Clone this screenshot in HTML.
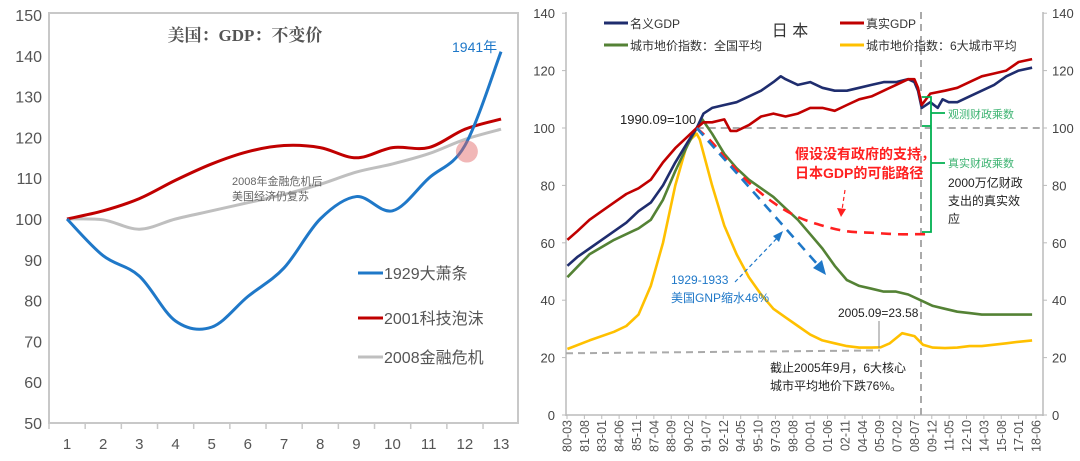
<!DOCTYPE html>
<html><head><meta charset="utf-8"><style>
body{margin:0;background:#fff;}
svg{display:block;font-family:"Liberation Sans","Noto Sans CJK SC",sans-serif;}
</style></head><body>
<svg id="c" width="1080" height="461" viewBox="0 0 1080 461">
<g id="left"></g>
<g id="right"></g>
</svg>
<script>
// ---- Left chart data ----
const usCats = [1,2,3,4,5,6,7,8,9,10,11,12,13];
const usYTicks = [50,60,70,80,90,100,110,120,130,140,150];
const dep1929 = [100,91,86,75,73.5,81,88,100,105.5,102,110,118,141];
const dot2001 = [100,102,105,109.5,113.5,116.5,118,117.5,115,117.5,117.5,122,124.5];
const fin2008 = [100,99.8,97.5,100,102,104,106,108.5,111.5,113.5,116,119.5,122];

// ---- Right chart data ----
const jpLabels = ["80-03","81-08","83-01","84-06","85-11","87-04","88-09","90-02","91-07","92-12","94-05","95-10","97-03","98-08","00-01","01-06","02-11","04-04","05-09","07-02","08-07","09-12","11-05","12-10","14-03","15-08","17-01","18-06"];
const jpYTicks = [0,20,40,60,80,100,120,140];
const nomYears = [1980.2,1981,1982,1983,1984,1985,1986,1987,1988,1989,1990,1990.75,1991.3,1992,1993,1994,1995,1996,1997,1997.6,1998,1999,2000,2001,2002,2003,2004,2005,2006,2007,2008,2008.5,2008.8,2009.1,2009.8,2010.4,2010.8,2011.3,2012,2013,2014,2015,2016,2017,2018.1];
const nomGDP  = [52,55,58,61,64,67,71,74,80,88,95,100,105,107,108,109,111,113,116,118,117,115,116,114,113,113,114,115,116,116,117,116,113,107,109,107,110,109,109,111,113,115,118,120,121];
const realYears = [1980.2,1981,1982,1983,1984,1985,1986,1987,1988,1989,1990,1990.75,1991.3,1992,1993,1993.5,1994,1995,1996,1997,1998,1999,2000,2001,2002,2003,2004,2005,2006,2007,2008,2008.5,2008.8,2009.1,2009.8,2011,2012,2013,2014,2015,2016,2017,2018.1];
const realGDP  = [61,64,68,71,74,77,79,82,88,93,97,100,102,102,103,99,99,101,104,105,104,105,107,107,106,108,110,111,113,115,117,117,114,108,112,113,114,116,118,119,120,123,124];
const landYears = [1980.2,1982,1984,1986,1987,1988,1989,1990,1990.75,1991.2,1992,1993,1994,1995,1996,1997,1998,1999,2000,2001,2002,2003,2004,2005,2006,2007,2008,2009,2010,2011,2012,2013,2014,2015,2016,2017,2018.1];
const landAll   = [48,56,61,65,68,75,85,94,100,103,98,91,86,82,79,76,72,68,63,58,52,47,45,44,43,43,42,40,38,37,36,35.5,35,35,35,35,35];
const cityYears = [1980.2,1982,1984,1985,1986,1987,1988,1989,1990,1990.75,1991,1992,1993,1994,1995,1996,1997,1998,1999,2000,2001,2002,2003,2004,2005,2005.75,2006.5,2007.5,2008.5,2009.2,2010,2011,2012,2013,2014,2015,2016,2017,2018.1];
const city6     = [23,26,29,31,35,45,60,80,95,98,96,80,66,56,48,42,37,34,31,28,26,25,24,23.5,23.5,23.6,25,28.5,27.5,24.5,23.5,23.3,23.5,24,24,24.5,25,25.5,26];
const noSupportYears = [1990.75,1992,1993,1995,1997,1999,2001,2003,2005,2007,2008.6,2009.4];
const noSupportGDP   = [100,95,90,81,74,69,66,64,63.5,63,63,63];

const NS="http://www.w3.org/2000/svg";
function mk(parent,tag,attrs,text){const e=document.createElementNS(NS,tag);for(const k in attrs)e.setAttribute(k,attrs[k]);if(text!==undefined)e.textContent=text;parent.appendChild(e);return e;}
function smooth(pts){let d="M"+pts[0][0]+","+pts[0][1];for(let i=0;i<pts.length-1;i++){const p0=pts[i-1]||pts[i],p1=pts[i],p2=pts[i+1],p3=pts[i+2]||p2;const c1x=p1[0]+(p2[0]-p0[0])/6,c1y=p1[1]+(p2[1]-p0[1])/6,c2x=p2[0]-(p3[0]-p1[0])/6,c2y=p2[1]-(p3[1]-p1[1])/6;d+=" C"+c1x+","+c1y+" "+c2x+","+c2y+" "+p2[0]+","+p2[1];}return d;}
function poly(pts){return "M"+pts.map(p=>p[0].toFixed(1)+","+p[1].toFixed(1)).join(" L");}

// ===== LEFT =====
const L=document.getElementById('left');
const lx=i=>67+(i-1)*36.17, ly=v=>15+(150-v)*4.08;
let e=mk(L,'rect',{x:49,y:13,width:469,height:410,fill:'none',stroke:'#c8c8c8','stroke-width':2});

usYTicks.forEach(v=>{const t=mk(L,'text',{x:42,y:ly(v)+6,'text-anchor':'end','font-size':16,fill:'#555'},v);
});
usCats.forEach(c=>{const t=mk(L,'text',{x:lx(c),y:449,'text-anchor':'middle','font-size':15,fill:'#555'},c);

const k=mk(L,'line',{x1:lx(c)-18,x2:lx(c)-18,y1:423,y2:429,stroke:'#c8c8c8','stroke-width':1.5});
});
e=mk(L,'text',{x:245,y:41,'text-anchor':'middle','font-size':17,'font-weight':'bold',fill:'#555','font-family':'"Liberation Serif","Noto Serif CJK SC",serif'},'美国：GDP：不变价');

[[fin2008,'#bfbfbf','series-2008-crisis'],[dot2001,'#c00000','series-2001-dotcom'],[dep1929,'#1f78c8','series-1929-depression']].forEach(([arr,col,n])=>{
const p=mk(L,'path',{d:smooth(arr.map((v,i)=>[lx(usCats[i]),ly(v)])),fill:'none',stroke:col,'stroke-width':3});
});
e=mk(L,'circle',{cx:lx(12)+2,cy:ly(118)+6,r:11,fill:'#e06060','fill-opacity':0.45});

e=mk(L,'text',{x:452,y:52,'font-size':14,fill:'#1f78c8'},'1941年');

e=mk(L,'text',{x:232,y:185,'font-size':11,fill:'#666'},'2008年金融危机后');

e=mk(L,'text',{x:232,y:200,'font-size':11,fill:'#666'},'美国经济仍复苏');

[['#1f78c8','1929大萧条',273],['#c00000','2001科技泡沫',318],['#bfbfbf','2008金融危机',357]].forEach(([c,t,y])=>{
const g=mk(L,'g',{});
mk(g,'line',{x1:358,x2:383,y1:y,y2:y,stroke:c,'stroke-width':3});
mk(g,'text',{x:384,y:y+6,'font-size':16,fill:'#555'},t);});

// ===== RIGHT =====
const R=document.getElementById('right');
const rx=t=>567+(t-1980.167)*12.26, ry=v=>415-v*2.87;
e=mk(R,'line',{x1:566,x2:566,y1:12,y2:416,stroke:'#bbb','stroke-width':1.5});

e=mk(R,'line',{x1:1043,x2:1043,y1:12,y2:416,stroke:'#bbb','stroke-width':1.5});

e=mk(R,'line',{x1:566,x2:1043,y1:ry(0),y2:ry(0),stroke:'#bbb','stroke-width':1.5});

jpYTicks.forEach(v=>{
const a=mk(R,'text',{x:555,y:ry(v)+5,'text-anchor':'end','font-size':13,fill:'#444'},v);

const b=mk(R,'text',{x:1052,y:ry(v)+5,'font-size':13,fill:'#444'},v);

mk(R,'line',{x1:562,x2:566,y1:ry(v),y2:ry(v),stroke:'#bbb'});mk(R,'line',{x1:1043,x2:1047,y1:ry(v),y2:ry(v),stroke:'#bbb'});});
jpLabels.forEach((s,i)=>{const x=567+i*17.37;
const t=mk(R,'text',{x:0,y:0,transform:`translate(${x+4.5},420) rotate(-90)`,'text-anchor':'end','font-size':12.5,fill:'#555'},s);

mk(R,'line',{x1:x,x2:x,y1:415,y2:419,stroke:'#bbb'});});
// reference lines
e=mk(R,'line',{x1:rx(1990.75),x2:1043,y1:ry(100),y2:ry(100),stroke:'#aaa','stroke-width':2,'stroke-dasharray':'7,5'});

e=mk(R,'line',{x1:921,x2:921,y1:12,y2:415,stroke:'#aaa','stroke-width':2,'stroke-dasharray':'7,5'});

e=mk(R,'line',{x1:566,x2:880,y1:ry(21.5),y2:ry(22.5),stroke:'#aaa','stroke-width':2,'stroke-dasharray':'7,5'});

// series
[[cityYears,city6,'#ffc000','series-6-city-land-price'],[landYears,landAll,'#548235','series-national-land-price'],[nomYears,nomGDP,'#1f2d6e','series-nominal-gdp'],[realYears,realGDP,'#c00000','series-real-gdp']].forEach(([ys,vs,c,n])=>{
const p=mk(R,'path',{d:poly(ys.map((y,i)=>[rx(y),ry(vs[i])])),fill:'none',stroke:c,'stroke-width':2.6,'stroke-linejoin':'round'});
});
e=mk(R,'path',{d:smooth(noSupportYears.map((y,i)=>[rx(y),ry(noSupportGDP[i])])),fill:'none',stroke:'#ff2020','stroke-width':2.6,'stroke-dasharray':'10,7'});

e=mk(R,'line',{x1:rx(1990.75),y1:ry(100),x2:818,y2:265,stroke:'#1f78c8','stroke-width':2.6,'stroke-dasharray':'10,7'});

mk(R,'polygon',{points:'826,275 813,268 822,260',fill:'#1f78c8'});
mk(R,'line',{x1:735,y1:282,x2:780,y2:235,stroke:'#1f78c8','stroke-width':1.2,'stroke-dasharray':'4,3'});
mk(R,'polygon',{points:'783,231 773,236 779,242',fill:'#1f78c8'});
mk(R,'line',{x1:845,y1:190,x2:842,y2:210,stroke:'#ff2020','stroke-width':1.2,'stroke-dasharray':'4,3'});
mk(R,'polygon',{points:'841,217 837,208 846,209',fill:'#ff2020'});
// green bracket
const gb=mk(R,'g',{stroke:'#00b050','stroke-width':1.8,fill:'none'});

mk(gb,'path',{d:'M922,97 H931 V232 H922 M931,113 H945 M931,163 H945 M922,126 H931'});
// texts
function T(x,y,s,sz,c,n,extra){const t=mk(R,'text',Object.assign({x:x,y:y,'font-size':sz,fill:c},extra||{}),s);return t;}
T(790,36,'日 本',16,'#333','right-chart-title',{'text-anchor':'middle'});
T(620,124,'1990.09=100',13,'#222','label-1990-peak');
T(795,159,'假设没有政府的支持，',14,'#ff2020','annotation-no-support-1',{'font-weight':'bold'});
T(795,178,'日本GDP的可能路径',14,'#ff2020','annotation-no-support-2',{'font-weight':'bold'});
T(671,284,'1929-1933',12,'#1f78c8','annotation-us-1');
T(671,302,'美国GNP缩水46%',12,'#1f78c8','annotation-us-2');
T(948,118,'观测财政乘数',11,'#3cb371','label-observed-multiplier');
T(948,167,'真实财政乘数',11,'#3cb371','label-real-multiplier');
T(948,187,'2000万亿财政',12,'#222','annotation-fiscal-1');
T(948,205,'支出的真实效',12,'#222','annotation-fiscal-2');
T(948,223,'应',12,'#222','annotation-fiscal-3');
T(838,317,'2005.09=23.58',12,'#222','label-2005-low');
mk(R,'line',{x1:879,x2:879,y1:321,y2:348,stroke:'#888'});
T(770,372,'截止2005年9月，6大核心',12,'#222','annotation-2005-1');
T(770,390,'城市平均地价下跌76%。',12,'#222','annotation-2005-2');
// legend
[[604,23,'#1f2d6e','名义GDP'],[840,23,'#c00000','真实GDP'],[604,45,'#548235','城市地价指数：全国平均'],[840,45,'#ffc000','城市地价指数：6大城市平均']].forEach(([x,y,c,s])=>{
const g=mk(R,'g',{});
mk(g,'line',{x1:x,x2:x+24,y1:y,y2:y,stroke:c,'stroke-width':3});
mk(g,'text',{x:x+26,y:y+5,'font-size':12,fill:'#333'},s);});
</script>
</body></html>
